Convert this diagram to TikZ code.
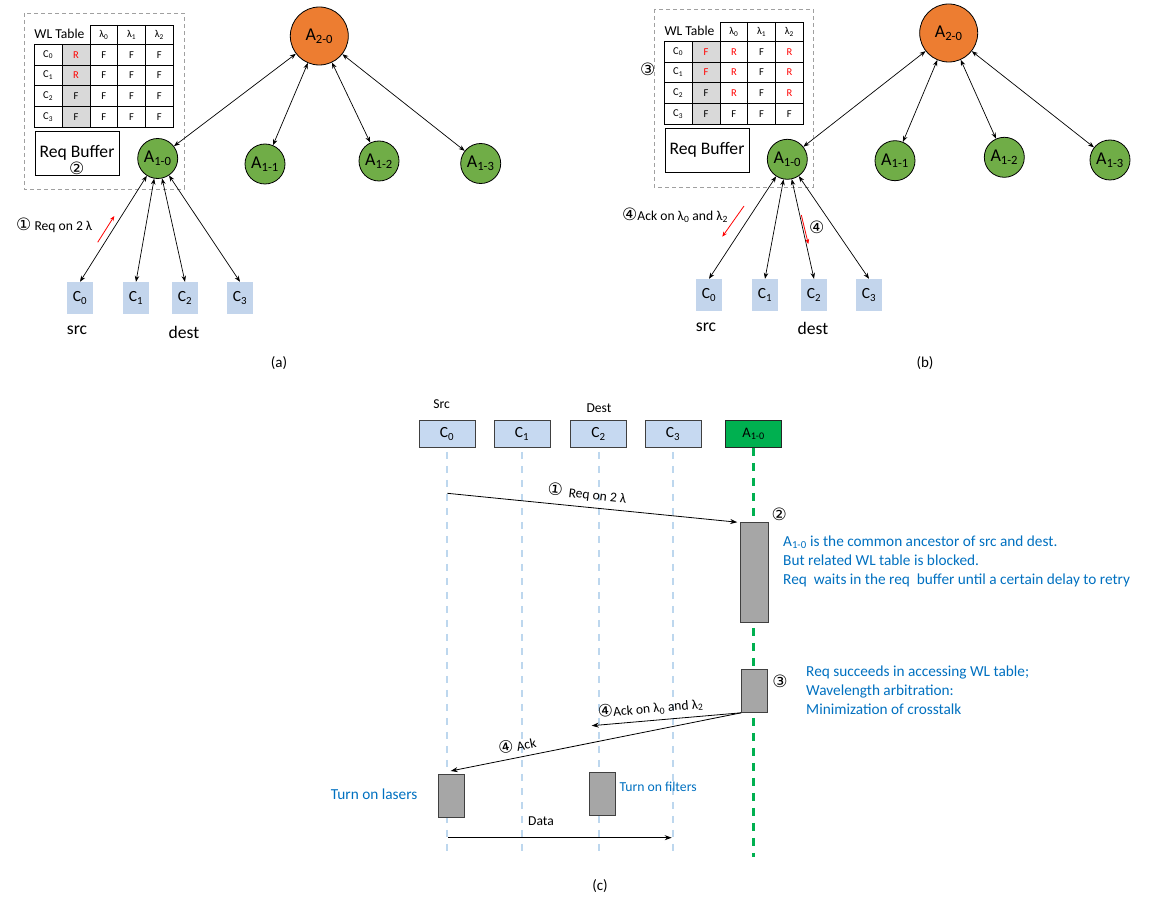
\documentclass[tikz,border=0pt]{standalone}
\usepackage{fontspec}
\setmainfont{Carlito}
\newfontfamily\symf{DejaVu Sans}
\usetikzlibrary{arrows.meta}
\definecolor{agreen}{HTML}{70AD47}
\definecolor{aorange}{HTML}{ED7D31}
\definecolor{cblue}{HTML}{C3D5EC}
\definecolor{sblue}{HTML}{C6D9F1}
\definecolor{lblue}{HTML}{BDD7EE}
\definecolor{sgreen}{HTML}{00B050}
\definecolor{tblue}{HTML}{0070C0}
\definecolor{actgray}{HTML}{A6A6A6}
\definecolor{tgray}{HTML}{D9D9D9}
\definecolor{dgray}{HTML}{404040}
\definecolor{boxgray}{HTML}{A0A0A0}
\newcommand\rR{\textcolor{red}{R}}
\newcommand\rF{\textcolor{red}{F}}
\newcommand\cd[1]{{\fontsize{17}{17}\symf #1}}
\newcommand\wltable[2]{%
  \fill[tgray] (62,44.3) rectangle (90,127.3);
  \draw[tline] (90,25) rectangle (173.3,44.3);
  \draw[tline] (117.7,25)--(117.7,44.3) (145.5,25)--(145.5,44.3);
  \draw[tline] (34.3,44.3) rectangle (173.3,127.3);
  \foreach \xx in {62,90,117.7,145.5} \draw[tline] (\xx,44.3)--(\xx,127.3);
  \foreach \yy in {65,85.8,106.5} \draw[tline] (34.3,\yy)--(173.3,\yy);
  \node[hdr] (#1-wl) at (59.5,33.5) {WL Table};
  \node[cell] (#1-h0) at (103.85,35) {λ\textsubscript{0}};
  \node[cell] (#1-h1) at (131.6,35) {λ\textsubscript{1}};
  \node[cell] (#1-h2) at (159.4,35) {λ\textsubscript{2}};
  \foreach \ri/\va/\vb/\vc/\vd in {#2}{
    \pgfmathsetmacro\yy{54.65+20.75*\ri}
    \node[cell] (#1-\ri-0) at (48.15,\yy) {C\textsubscript{\ri}};
    \node[cell] (#1-\ri-1) at (76,\yy) {\va};
    \node[cell] (#1-\ri-2) at (103.85,\yy) {\vb};
    \node[cell] (#1-\ri-3) at (131.6,\yy) {\vc};
    \node[cell] (#1-\ri-4) at (159.4,\yy) {\vd};
  }%
}
\begin{document}
\begin{tikzpicture}[x=1pt,y=-1pt,
  tline/.style={line width=0.8pt,black},
  cell/.style={inner sep=0pt,font=\fontsize{10.5}{10.5}\selectfont},
  hdr/.style={inner sep=0pt,font=\fontsize{13.6}{13.6}\selectfont},
  lnode/.style={circle,draw=black,line width=0.8pt,fill=agreen,minimum size=40pt,inner sep=0pt,font=\fontsize{18}{18}\selectfont},
  rnode/.style={lnode,fill=aorange,minimum size=58pt},
  cbox/.style={fill=cblue,minimum width=26pt,minimum height=32pt,inner sep=0pt,font=\fontsize{15.5}{15.5}\selectfont},
  big/.style={inner sep=0pt,font=\fontsize{17.6}{17.6}\selectfont},
  small/.style={inner sep=0pt,font=\fontsize{13.6}{13.6}\selectfont},
  captext/.style={inner sep=0pt,font=\fontsize{15}{15}\selectfont},
  circ/.style={inner sep=0pt,font=\fontsize{17}{17}\symf},
  dbl/.style={{Stealth[length=6pt,width=4.5pt]}-{Stealth[length=6pt,width=4.5pt]},line width=0.7pt},
  redarr/.style={-{Stealth[length=5pt,width=4pt]},red,line width=0.8pt},
  msg/.style={-{Stealth[length=7pt,width=5pt]},line width=0.8pt},
  dashbox/.style={boxgray,line width=0.9pt,dash pattern=on 4pt off 3pt},
  rbuf/.style={draw=black,line width=0.8pt,minimum width=84pt,minimum height=43.5pt,inner sep=0pt,font=\fontsize{17.6}{17.6}\selectfont},
  sbox/.style={draw=dgray,line width=1pt,fill=sblue,minimum width=56pt,minimum height=26.6pt,inner sep=0pt,font=\fontsize{15.5}{15.5}\selectfont},
  life/.style={lblue,line width=2pt,dash pattern=on 7pt off 7pt},
  glife/.style={sgreen,line width=2.6pt,dash pattern=on 8pt off 7pt},
  act/.style={draw=dgray,line width=1pt,fill=actgray,inner sep=0pt},
  btext/.style={inner sep=0pt,text=tblue,align=left,font=\fontsize{15.3}{19}\selectfont},
]
\useasboundingbox (0,0) rectangle (1149,901);

% ================= (a) =================
\draw[dashbox] (24,13) rectangle (184,189);
\wltable{ta}{0/\rR/F/F/F, 1/\rR/F/F/F, 2/F/F/F/F, 3/F/F/F/F}
\node[rbuf] (rba) at (77,153.3) {Req Buffer};
\node[circ] (a-two) at (76.7,168.7) {②};

\node[rnode] (A20) at (319.3,36) {A\textsubscript{2-0}};
\node[lnode] (A10) at (157.7,158.5) {A\textsubscript{1-0}};
\node[lnode] (A11) at (265,164) {A\textsubscript{1-1}};
\node[lnode] (A12) at (379,161) {A\textsubscript{1-2}};
\node[lnode] (A13) at (480.7,163.5) {A\textsubscript{1-3}};

\node[cbox] (ca0) at (80,298) {C\textsubscript{0}};
\node[cbox] (ca1) at (136,298) {C\textsubscript{1}};
\node[cbox] (ca2) at (185,298) {C\textsubscript{2}};
\node[cbox] (ca3) at (240,298) {C\textsubscript{3}};
\node[big] (srca) at (77,330) {src};
\node[big] (desta) at (184,332) {dest};

\foreach \t in {A10,A11,A12,A13} \draw[dbl] (A20) -- (\t);
\foreach \t in {ca0,ca1,ca2,ca3} \draw[dbl] (A10) -- (\t.north);

\node[small,anchor=west] (lreqa) at (16,225) {\cd{①} Req on 2 λ};
\coordinate (ra1) at (97.7,242.3);
\coordinate (ra2) at (114.3,216);
\draw[redarr] (ra1) -- (ra2);
\node[captext] (capa) at (279,363) {(a)};

% ================= (b) =================
\draw[dashbox] (654,9) rectangle (813,187);
\begin{scope}[shift={(630,-3)}]
\wltable{tb}{0/\rF/\rR/F/\rR, 1/\rF/\rR/F/\rR, 2/F/\rR/F/\rR, 3/F/F/F/F}
\end{scope}
\node[circ] (b-three) at (647.7,69.3) {③};
\node[rbuf] (rbb) at (707,150.3) {Req Buffer};

\node[rnode] (B20) at (948.7,33) {A\textsubscript{2-0}};
\node[lnode] (B10) at (787.3,159.3) {A\textsubscript{1-0}};
\node[lnode] (B11) at (895,160.7) {A\textsubscript{1-1}};
\node[lnode] (B12) at (1004.3,157.3) {A\textsubscript{1-2}};
\node[lnode] (B13) at (1110,160) {A\textsubscript{1-3}};

\node[cbox] (cb0) at (709,295) {C\textsubscript{0}};
\node[cbox] (cb1) at (765,295) {C\textsubscript{1}};
\node[cbox] (cb2) at (814,295) {C\textsubscript{2}};
\node[cbox] (cb3) at (869,295) {C\textsubscript{3}};
\node[big] (srcb) at (706,327) {src};
\node[big] (destb) at (813,328) {dest};

\foreach \t in {B10,B11,B12,B13} \draw[dbl] (B20) -- (\t);
\foreach \t in {cb0,cb1,cb2,cb3} \draw[dbl] (B10) -- (\t.north);

\node[small,anchor=west] (lackb) at (622,215) {\cd{④}Ack on λ\textsubscript{0} and λ\textsubscript{2}};
\coordinate (rb1) at (744,206);
\coordinate (rb2) at (722.3,236.7);
\draw[redarr] (rb1) -- (rb2);
\coordinate (rb3) at (801.3,215);
\coordinate (rb4) at (808.3,244);
\draw[redarr] (rb3) -- (rb4);
\node[circ] (b-four) at (816.7,227.7) {④};
\node[captext] (capb) at (925,363) {(b)};

% ================= (c) =================
\node[small] (srcl) at (441.7,404.3) {Src};
\node[small] (destl) at (599,407.7) {Dest};
\node[sbox] (s0) at (447,434) {C\textsubscript{0}};
\node[sbox] (s1) at (522,434) {C\textsubscript{1}};
\node[sbox] (s2) at (598.5,434) {C\textsubscript{2}};
\node[sbox] (s3) at (673,434) {C\textsubscript{3}};
\node[sbox,fill=sgreen,draw=black!85,font=\fontsize{14.5}{14.5}\selectfont] (sa) at (753.5,434) {A\textsubscript{1-0}};
\coordinate (bot) at (0,857);
\foreach \s in {s0,s1,s2,s3} \draw[life] ([yshift=-4pt]\s.south) -- (\s.south |- bot);
\draw[glife] (sa.south) -- (sa.south |- bot);

\node[act,minimum width=27.6pt,minimum height=100pt] (box2) at (754.5,572.7) {};
\node[act,minimum width=26pt,minimum height=43pt] (box3) at (754.7,690.8) {};
\node[act,minimum width=26pt,minimum height=43.4pt] (boxl) at (451.3,796) {};
\node[act,minimum width=26pt,minimum height=43.4pt] (boxf) at (602.3,794) {};

\coordinate (q0) at (447.3,493.3);
\draw[msg] (q0) -- ([xshift=-3pt]box2.north west);
\node[small,rotate=-6.3] (lreqc) at (587,494) {\cd{①}\ \ Req on 2 λ};
\node[circ] (c-two) at (779.3,514) {②};
\node[btext,anchor=west] (t2) at (783,561.5) {A\textsubscript{1-0} is the common ancestor of src and dest.\\But related WL table is blocked.\\Req\ \ waits in the req\ \ buffer until a certain delay to retry};
\node[circ] (c-three) at (780,681) {③};
\node[btext,anchor=west] (t3) at (806,690) {Req succeeds in accessing WL table;\\Wavelength arbitration:\\Minimization of crosstalk};

\coordinate (k2) at (591.7,725.7);
\draw[msg] (box3.south west) -- (k2);
\node[small,rotate=5.2] (lack2) at (650.5,708) {\cd{④}Ack on λ\textsubscript{0} and λ\textsubscript{2}};
\coordinate (k0) at (450.7,771);
\draw[msg] (box3.south west) -- (k0);
\node[small,rotate=11.5] (lack0) at (517,745) {\cd{④}\ Ack};

\node[btext,anchor=west] (tl) at (330.7,794.3) {Turn on lasers};
\node[btext,anchor=west,font=\fontsize{13.7}{13.7}\selectfont] (tf) at (619.3,786.7) {Turn on filters};

\coordinate (d0) at (448.3,837.7);
\coordinate (d3) at (671.7,837.7);
\draw[msg] (d0) -- (d3);
\node[small] (datal) at (541,820.7) {Data};
\node[captext] (capc) at (600,886) {(c)};
\end{tikzpicture}
\end{document}
